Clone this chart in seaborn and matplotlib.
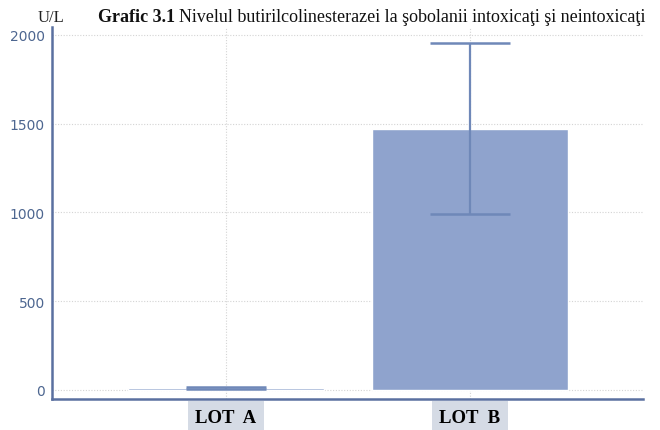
import matplotlib
matplotlib.use("Agg")
import matplotlib.pyplot as plt
import seaborn as sns
import pandas as pd

categories = ["LOT A", "LOT B"]
means = [13, 1472]
errors = [6, 483]
yticks = [0, 500, 1000, 1500, 2000]

sns.set_style("white")
plt.rcParams["font.family"] = ["DejaVu Sans"]

df = pd.DataFrame({"lot": categories, "val": means})

fig = plt.figure(figsize=(6.6, 4.31), dpi=100)
ax = fig.add_axes([52/660, 31/431, 591/660, 372/431])

spine_c = "#5a70a0"
bar_c = "#8fa3cd"
err_c = "#6f88b8"

sns.barplot(data=df, x="lot", y="val", color=bar_c, saturation=1, width=0.8,
            errorbar=None, ax=ax, zorder=2)
ax.errorbar(x=range(len(categories)), y=means, yerr=errors, fmt="none",
            ecolor=err_c, elinewidth=1.6, capsize=29, capthick=1.8, zorder=3)

ax.set_xlim(-0.713, 1.709)
ax.set_ylim(-51, 2045)
ax.set_yticks(yticks)
ax.set_yticklabels([str(v) for v in yticks])
ax.set_xticks(range(len(categories)))
ax.set_xticklabels([c.replace(" ", "  ") for c in categories])
ax.set_xlabel("")
ax.set_ylabel("")

ax.grid(True, axis="both", linestyle=(0, (1, 1.5)), color="#d4d4d4", linewidth=0.8, zorder=0)
ax.set_axisbelow(True)

for s in ["top", "right"]:
    ax.spines[s].set_visible(False)
for s in ["left", "bottom"]:
    ax.spines[s].set_color(spine_c)
    ax.spines[s].set_linewidth(1.8)

ax.tick_params(axis="y", direction="in", length=8, width=1.6, color=spine_c,
               labelcolor="#4d6690", labelsize=10, pad=5)
ax.tick_params(axis="x", direction="in", length=8, width=1.6, color=spine_c, pad=7)
for t in ax.get_xticklabels():
    t.set_fontfamily("Liberation Serif")
    t.set_fontweight("bold")
    t.set_fontsize(13.5)
    t.set_color("black")
    t.set_bbox(dict(facecolor="#d5dbe5", edgecolor="none", boxstyle="square,pad=0.4"))

ty = 1 - 18/431
fig.text(38/660, ty, "U/L", fontfamily="Liberation Serif", fontsize=12,
         color="#222222", va="center", ha="left")
t1 = fig.text(98/660, ty, "Grafic 3.1", fontfamily="Liberation Serif",
              fontweight="bold", fontsize=13, va="center", ha="left", color="#111111")
fig.canvas.draw()
bb = t1.get_window_extent()
x2 = (bb.x1 + 4) / fig.bbox.width
fig.text(x2, ty,
         "Nivelul butirilcolinesterazei la şobolanii intoxicaţi şi neintoxicaţi",
         fontfamily="Liberation Serif", fontsize=13, va="center", ha="left", color="#111111")

fig.savefig("out.png", dpi=100)
